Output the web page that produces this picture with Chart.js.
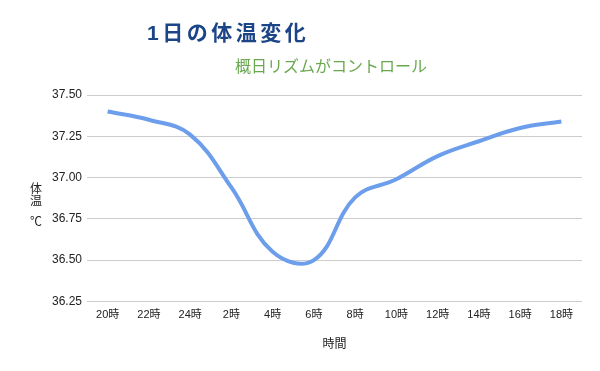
<!DOCTYPE html>
<html><head><meta charset="utf-8">
<script src="https://cdn.jsdelivr.net/npm/chart.js@4"></script>
<style>html,body{margin:0;padding:0;background:#fff}#wrap{width:600px;height:371px;position:relative}</style>
</head><body><div id="wrap"><canvas id="c" width="600" height="371"></canvas></div>
<script>
const categories = ['20時','22時','24時','2時','4時','6時','8時','10時','12時','14時','16時','18時'];
const temperatures = [37.40,37.35,37.26,36.94,36.55,36.50,36.88,36.99,37.13,37.22,37.30,37.34];
const yMin = 36.25, yMax = 37.50, yStep = 0.25;
const chartTitle = '1日の体温変化';
const chartSubtitle = '概日リズムがコントロール';
const yAxisTitle = ['体','温','','℃'];
const xAxisTitle = '時間';

const FONT = '"Liberation Sans", Arial, "Noto Sans CJK JP", sans-serif';

const textPlugin = {
  id: 'texts',
  afterDraw(chart) {
    const ctx = chart.ctx;
    ctx.save();
    ctx.textBaseline = 'middle';
    ctx.textAlign = 'left';
    ctx.fillStyle = '#1c4587';
    ctx.font = 'bold 21px ' + FONT;
    ctx.letterSpacing = '3.5px';
    ctx.fillText(chartTitle, 147, 34);
    ctx.fillStyle = '#6aa84f';
    ctx.font = '16px ' + FONT;
    ctx.letterSpacing = '0px';
    ctx.fillText(chartSubtitle, 235, 68);
    ctx.fillStyle = '#222';
    ctx.font = '12px ' + FONT;
    ctx.textAlign = 'center';
    const ys = [190, 202, 213, 223];
    yAxisTitle.forEach((ch, i) => { if (ch) ctx.fillText(ch, 36, ys[i]); });
    ctx.restore();
  }
};

new Chart(document.getElementById('c'), {
  type: 'line',
  data: {
    labels: categories,
    datasets: [{
      data: temperatures,
      borderColor: '#6d9eeb',
      borderWidth: 4,
      pointRadius: 0,
      tension: 0.4,
      fill: false
    }]
  },
  options: {
    responsive: false,
    animation: false,
    layout: { padding: { top: 95, right: 18, bottom: 19, left: 0 } },
    plugins: { legend: { display: false }, tooltip: { enabled: false } },
    scales: {
      x: {
        offset: true,
        grid: { display: false, drawTicks: false },
        border: { display: false },
        ticks: { color: '#222', font: { family: FONT, size: 11 }, padding: 7, maxRotation: 0, autoSkip: false },
        title: { display: true, text: xAxisTitle, color: '#222', font: { family: FONT, size: 12 }, padding: { top: 9, bottom: 0 } }
      },
      y: {
        min: yMin, max: yMax,
        afterFit(scale) { scale.width = 87; },
        grid: { color: '#cccccc', lineWidth: 1, drawTicks: false },
        border: { display: false },
        ticks: { stepSize: yStep, color: '#222', font: { family: FONT, size: 12 }, padding: 5,
          callback: v => Number(v).toFixed(2) }
      }
    }
  },
  plugins: [textPlugin]
});
</script>
</body></html>
